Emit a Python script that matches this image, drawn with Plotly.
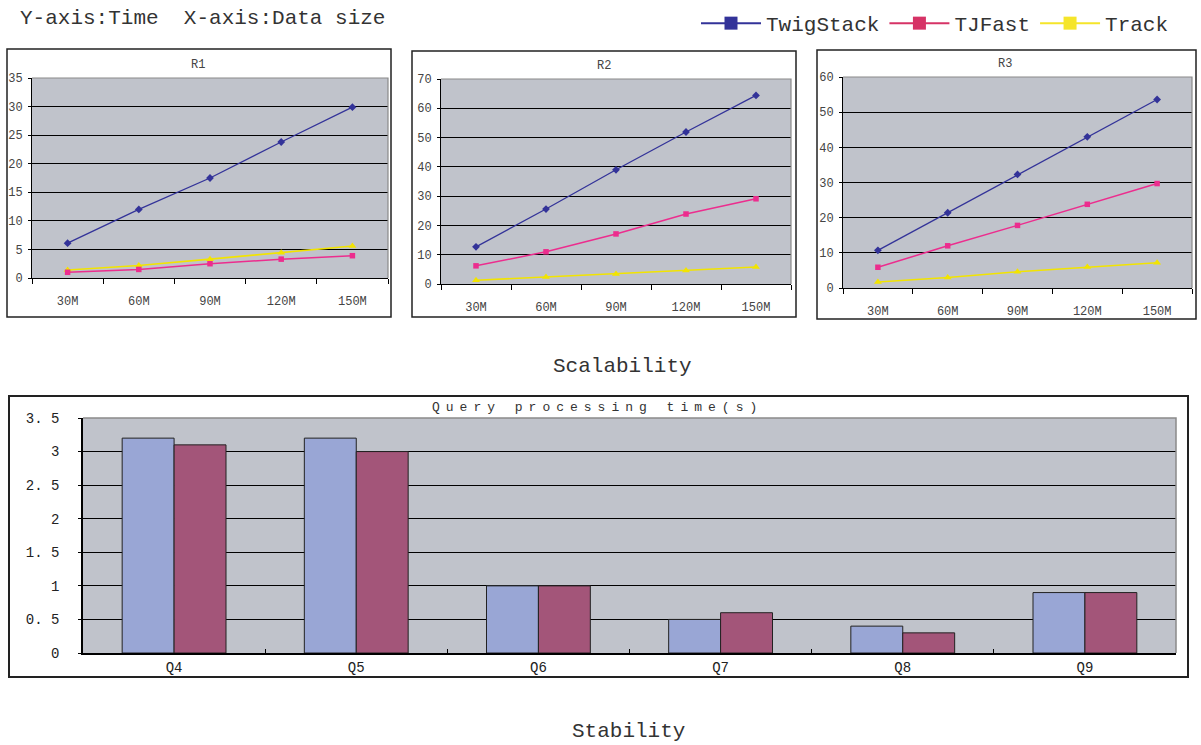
import plotly.graph_objects as go

W, H = 1201, 745

# ---- data -------------------------------------------------------------
sizes = ["30M", "60M", "90M", "120M", "150M"]

r1_twigstack = [6.1, 12.0, 17.5, 23.8, 29.9]
r1_tjfast = [1.0, 1.5, 2.5, 3.3, 3.9]
r1_track = [1.4, 2.2, 3.3, 4.4, 5.6]

r2_twigstack = [12.7, 25.6, 39.0, 51.9, 64.4]
r2_tjfast = [6.2, 11.0, 17.1, 23.9, 29.1]
r2_track = [1.3, 2.4, 3.4, 4.6, 5.8]

r3_twigstack = [10.7, 21.4, 32.3, 43.0, 53.6]
r3_tjfast = [5.9, 12.0, 17.8, 23.8, 29.7]
r3_track = [1.7, 3.0, 4.6, 6.0, 7.2]

queries = ["Q4", "Q5", "Q6", "Q7", "Q8", "Q9"]
query_time_a = [3.2, 3.2, 1.0, 0.5, 0.4, 0.9]
query_time_b = [3.1, 3.0, 1.0, 0.6, 0.3, 0.9]

stab_tickvals = [0, 0.5, 1, 1.5, 2, 2.5, 3, 3.5]
stab_ticktext = ["0", "0. 5", "1", "1. 5", "2", "2. 5", "3", "3. 5"]

# ---- style ------------------------------------------------------------
FONT = "Liberation Mono"
C_TWIG = "#333399"
C_TJF = "#EC2D8E"
C_TRACK = "#F2E400"
PLOT_BG = "#C0C3CB"
BAR_A = "#99A6D5"
BAR_B = "#A35579"


def px(x):
    return x / W


def py(y):
    return 1 - y / H


fig = go.Figure()

panels = [
    ("R1", r1_twigstack, r1_tjfast, r1_track, 35, 5, (32, 388), (78, 278)),
    ("R2", r2_twigstack, r2_tjfast, r2_track, 70, 10, (441, 791), (79, 284)),
    ("R3", r3_twigstack, r3_tjfast, r3_track, 60, 10, (843, 1192), (77, 288)),
]

for i, (name, twig, tjf, trk, ymax, step, (xl, xr), (yt, yb)) in enumerate(panels, start=1):
    xa = "x" if i == 1 else f"x{i}"
    ya = "y" if i == 1 else f"y{i}"
    fig.add_trace(go.Scatter(x=sizes, y=twig, mode="lines+markers", xaxis=xa, yaxis=ya,
                             line=dict(color=C_TWIG, width=1.3),
                             marker=dict(symbol="diamond", size=6, color=C_TWIG),
                             showlegend=False))
    fig.add_trace(go.Scatter(x=sizes, y=trk, mode="lines+markers", xaxis=xa, yaxis=ya,
                             line=dict(color=C_TRACK, width=1.6),
                             marker=dict(symbol="triangle-up", size=7, color=C_TRACK),
                             showlegend=False))
    fig.add_trace(go.Scatter(x=sizes, y=tjf, mode="lines+markers", xaxis=xa, yaxis=ya,
                             line=dict(color=C_TJF, width=1.5),
                             marker=dict(symbol="square", size=5.5, color=C_TJF),
                             showlegend=False))
    sfx = "" if i == 1 else str(i)
    fig.update_layout(**{
        f"xaxis{sfx}": dict(domain=[px(xl), px(xr)], anchor=ya, type="category",
                            range=[-0.5, 4.5], tickson="boundaries", ticks="outside",
                            ticklen=5, tickcolor="#000", showline=True, linecolor="#000",
                            linewidth=1, showgrid=False, ticklabelstandoff=12,
                            tickfont=dict(family=FONT, size=12, color="#444")),
        f"yaxis{sfx}": dict(domain=[py(yb), py(yt)], anchor=xa, range=[0, ymax], dtick=step,
                            ticks="outside", ticklen=3, tickcolor="#000", showgrid=True,
                            gridcolor="#000", gridwidth=1, showline=True, linecolor="#000",
                            zeroline=False, ticklabelstandoff=3,
                            tickfont=dict(family=FONT, size=12, color="#444")),
    })
    # light top/right edge of the plotting area
    fig.add_shape(type="path", xref=f"{xa} domain", yref=f"{ya} domain",
                  path="M 0 1 L 1 1 L 1 0", line=dict(color="#8a8a8a", width=1.2))

# legend entries
for nm, col in [("TwigStack", "#333399"), ("TJFast", "#D63366"), ("Track", "#F5E52A")]:
    fig.add_trace(go.Scatter(x=[None], y=[None], mode="lines+markers", name=nm,
                             line=dict(color=col, width=2),
                             marker=dict(symbol="square", size=13, color=col)))

# stability bars
fig.add_trace(go.Bar(x=queries, y=query_time_a, xaxis="x4", yaxis="y4",
                     marker=dict(color=BAR_A, line=dict(color="#222", width=1)), showlegend=False))
fig.add_trace(go.Bar(x=queries, y=query_time_b, xaxis="x4", yaxis="y4",
                     marker=dict(color=BAR_B, line=dict(color="#222", width=1)), showlegend=False))

fig.update_layout(
    xaxis4=dict(domain=[px(83), px(1176)], anchor="y4", type="category", tickson="boundaries",
                ticks="inside", ticklen=4, tickcolor="#000", showline=True, linecolor="#000",
                linewidth=1.5, showgrid=False,
                tickfont=dict(family=FONT, size=14, color="#222")),
    yaxis4=dict(domain=[py(653), py(418)], anchor="x4", range=[0, 3.5], tickvals=stab_tickvals,
                ticktext=stab_ticktext, ticks="outside", ticklen=3, tickcolor="#000",
                showgrid=True, gridcolor="#000", gridwidth=1, showline=True, linecolor="#000",
                linewidth=1.5, zeroline=False, ticklabelstandoff=16,
                tickfont=dict(family=FONT, size=14, color="#222")),
    barmode="group", bargap=0.43, bargroupgap=0,
)
fig.add_shape(type="path", xref="x4 domain", yref="y4 domain",
              path="M 0 1 L 1 1 L 1 0", line=dict(color="#8a8a8a", width=1.5))

# outer frames
for (x0, y0, x1, y1, w) in [(7, 49, 391, 317, 1.5), (412, 51, 796, 317, 1.5),
                            (817, 50, 1196, 319, 1.5), (9, 396, 1188, 677, 2)]:
    fig.add_shape(type="rect", xref="paper", yref="paper", x0=px(x0), x1=px(x1),
                  y0=py(y1), y1=py(y0), line=dict(color="#222", width=w))

ann = [
    ("Y-axis:Time  X-axis:Data size", 203, 19, 21, "#333"),
    ("R1", 198, 65, 12, "#444"),
    ("R2", 604, 66, 12, "#444"),
    ("R3", 1005, 64, 12, "#444"),
    ("Scalability", 622, 366, 21, "#333"),
    ("Stability", 628, 731, 21, "#333"),
    ('<span style="letter-spacing:6px">Query processing time(s)</span>', 597, 407, 13, "#333"),
]
for text, x, y, s, c in ann:
    fig.add_annotation(text=text, x=px(x), y=py(y), xref="paper", yref="paper",
                       showarrow=False, xanchor="center", yanchor="middle",
                       font=dict(family=FONT, size=s, color=c))

fig.update_layout(
    width=W, height=H, margin=dict(l=0, r=0, t=0, b=0, autoexpand=False),
    paper_bgcolor="white", plot_bgcolor=PLOT_BG,
    legend=dict(orientation="h", x=px(1174), xanchor="right", y=py(3), yanchor="top",
                font=dict(family=FONT, size=21, color="#333"), itemwidth=60,
                bgcolor="rgba(0,0,0,0)", traceorder="normal"),
)

fig.write_html("out.html")
